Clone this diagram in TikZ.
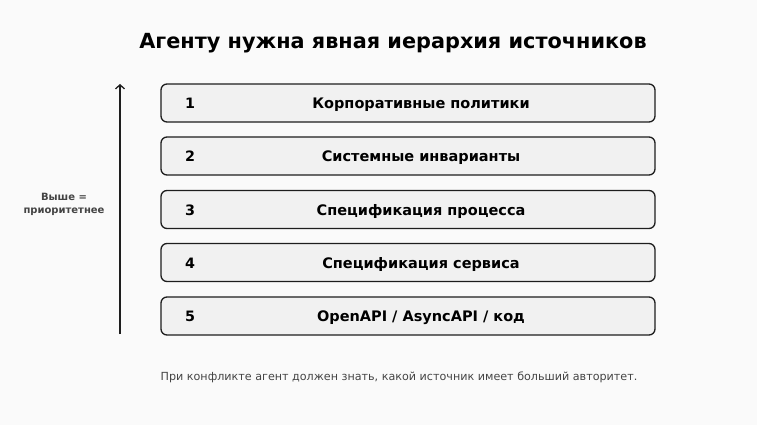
\documentclass[tikz,border=0pt]{standalone}
\usepackage{fontspec}
\setmainfont{DejaVu Sans}
\usetikzlibrary{positioning,arrows.meta}
\definecolor{bgcol}{HTML}{FAFAFA}
\definecolor{boxfill}{HTML}{F1F1F1}
\definecolor{boxline}{HTML}{1E1E1E}
\definecolor{notecol}{HTML}{444444}
\begin{document}
\begin{tikzpicture}[x=1pt,y=-1pt]
			\tikzstyle{level}=[draw=boxline,fill=boxfill,line width=1.3pt,rounded corners=6pt,minimum width=494pt,minimum height=38pt,inner sep=0pt]
			\tikzstyle{lvlnum}=[font=\bfseries\fontsize{14.3}{16}\selectfont,inner sep=0pt,anchor=base]
			\tikzstyle{lvltext}=[font=\bfseries\fontsize{14.5}{16}\selectfont,inner sep=0pt,anchor=base]
				\fill[bgcol] (0,0) rectangle (757,425);
				\useasboundingbox (0,0) rectangle (757,425);
				\node[font=\bfseries\fontsize{20.8}{24}\selectfont,anchor=base](title) at (393,48.5){Агенту нужна явная иерархия источников};
				\node[level](b1) at (408,103){};
				\node[level](b2) at (408,156){};
				\node[level](b3) at (408,209.5){};
				\node[level](b4) at (408,262.5){};
				\node[level](b5) at (408,316){};
				\node[lvlnum](n1) at (190,108.5){1};
				\node[lvlnum](n2) at (190,161.5){2};
				\node[lvlnum](n3) at (190,215){3};
				\node[lvlnum](n4) at (190,268){4};
				\node[lvlnum](n5) at (190,321.5){5};
				\node[lvltext](t1) at (421,108.5){Корпоративные политики};
				\node[lvltext](t2) at (421,161.5){Системные инварианты};
				\node[lvltext](t3) at (421,215){Спецификация процесса};
				\node[lvltext](t4) at (421,268){Спецификация сервиса};
				\node[lvltext](t5) at (421,321.5){OpenAPI / AsyncAPI / код};
				\coordinate (low) at (120,334);
				\coordinate (high) at (120,84);
				\draw[-{Straight Barb[length=4pt,width=9pt]},line width=1.3pt,boxline] (low) -- (high);
				\node[font=\bfseries\fontsize{10}{13}\selectfont,text=notecol,align=center](prio) at (64,204){Выше =\\приоритетнее};
				\node[font=\fontsize{11.15}{13}\selectfont,text=notecol,anchor=base](note) at (399,380.5){При конфликте агент должен знать, какой источник имеет больший авторитет.};
			\end{tikzpicture}
\end{document}
